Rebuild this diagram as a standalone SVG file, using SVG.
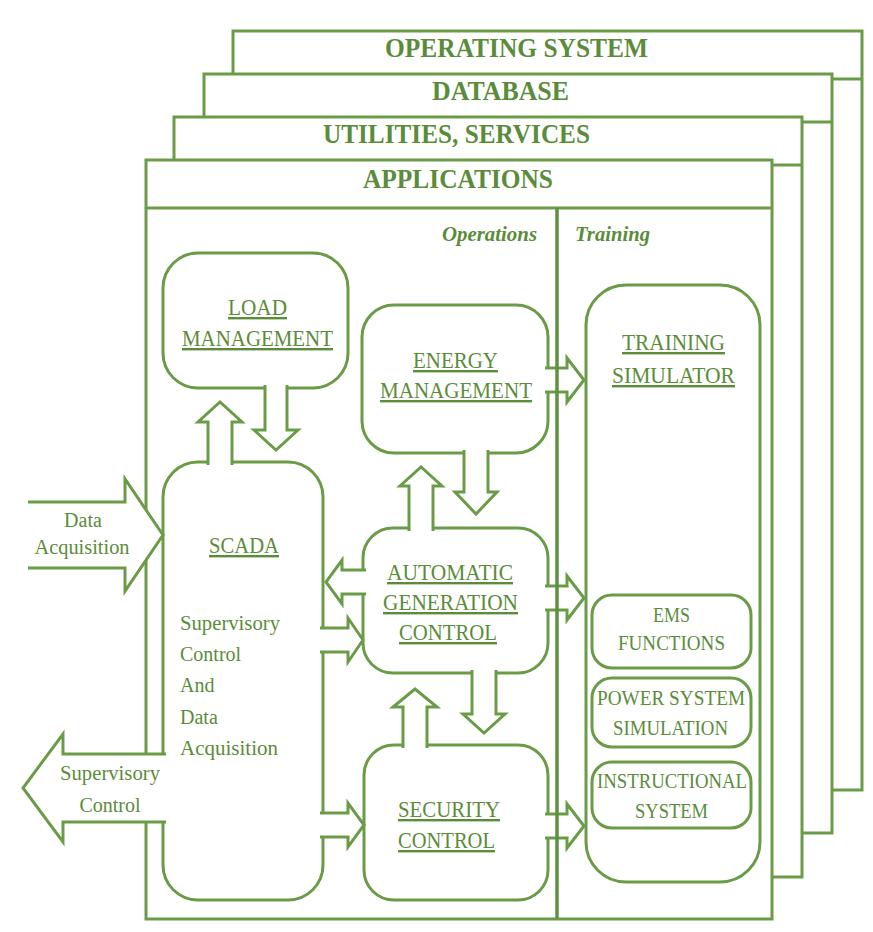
<svg xmlns="http://www.w3.org/2000/svg" width="873" height="932" viewBox="0 0 873 932">
<style>
.frame{fill:#fff;stroke:#6a9b47;stroke-width:3}
.hl{stroke:#6a9b47;stroke-width:3;fill:none}
.box{fill:#fff;stroke:#6a9b47;stroke-width:3}
.arr{fill:#fff;stroke:#6a9b47;stroke-width:3;stroke-linejoin:miter}
.div{stroke:#5e9040;stroke-width:3.5}
text{font-family:"Liberation Serif","Times New Roman",serif;fill:#5b8c3a}
.h{font-size:27px;font-weight:bold}
.it{font-size:21px;font-weight:bold;font-style:italic}
.lbl{font-size:24px;text-decoration:underline}
.sm{font-size:22px}
.t{font-size:20px}
.c{text-anchor:middle}
</style>
<rect width="873" height="932" fill="#fff"/>
<g id="layers">
<g id="operating-system">
<rect class="frame" x="233" y="31" width="629" height="759"/>
<line class="hl" x1="233" y1="79" x2="862" y2="79"/>
<text class="h" x="385" y="57" textLength="263" lengthAdjust="spacingAndGlyphs">OPERATING SYSTEM</text>
</g>
<g id="database">
<rect class="frame" x="204" y="74" width="628" height="759"/>
<line class="hl" x1="204" y1="122" x2="832" y2="122"/>
<text class="h" x="432" y="100" textLength="137" lengthAdjust="spacingAndGlyphs">DATABASE</text>
</g>
<g id="utilities">
<rect class="frame" x="174" y="117" width="628" height="760"/>
<line class="hl" x1="174" y1="165" x2="802" y2="165"/>
<text class="h" x="323" y="143" textLength="267" lengthAdjust="spacingAndGlyphs">UTILITIES, SERVICES</text>
</g>
<g id="applications">
<rect class="frame" x="146" y="160" width="626" height="759"/>
<line class="hl" x1="146" y1="208" x2="772" y2="208"/>
<text class="h" x="363" y="188" textLength="190" lengthAdjust="spacingAndGlyphs">APPLICATIONS</text>
<text class="it" x="442" y="241" textLength="95" lengthAdjust="spacingAndGlyphs">Operations</text>
<text class="it" x="575" y="241" textLength="75" lengthAdjust="spacingAndGlyphs">Training</text>
</g>
</g>
<g id="load-management">
<rect class="box" x="163" y="253" width="185" height="135" rx="35"/>
<text class="lbl" x="228" y="315" textLength="59" lengthAdjust="spacingAndGlyphs">LOAD</text>
<text class="lbl" x="182" y="346" textLength="151" lengthAdjust="spacingAndGlyphs">MANAGEMENT</text>
</g>
<g id="scada">
<rect class="box" x="163" y="462" width="160" height="438" rx="35"/>
<text class="lbl" x="209" y="553" textLength="70" lengthAdjust="spacingAndGlyphs">SCADA</text>
<text class="t" x="180" y="630" textLength="100" lengthAdjust="spacingAndGlyphs">Supervisory</text>
<text class="t" x="180" y="661">Control</text>
<text class="t" x="180" y="692">And</text>
<text class="t" x="180" y="724">Data</text>
<text class="t" x="180" y="755" textLength="98" lengthAdjust="spacingAndGlyphs">Acquisition</text>
</g>
<g id="energy-management">
<rect class="box" x="362" y="305" width="186" height="148" rx="32"/>
<text class="lbl" x="413" y="368" textLength="85" lengthAdjust="spacingAndGlyphs">ENERGY</text>
<text class="lbl" x="380" y="398" textLength="152" lengthAdjust="spacingAndGlyphs">MANAGEMENT</text>
</g>
<g id="agc">
<rect class="box" x="363" y="528" width="185" height="145" rx="30"/>
<text class="lbl" x="387" y="580" textLength="126" lengthAdjust="spacingAndGlyphs">AUTOMATIC</text>
<text class="lbl" x="383" y="610" textLength="135" lengthAdjust="spacingAndGlyphs">GENERATION</text>
<text class="lbl" x="399" y="640" textLength="98" lengthAdjust="spacingAndGlyphs">CONTROL</text>
</g>
<g id="security-control">
<rect class="box" x="364" y="745" width="184" height="155" rx="30"/>
<text class="lbl" x="398" y="817" textLength="102" lengthAdjust="spacingAndGlyphs">SECURITY</text>
<text class="lbl" x="398" y="848" textLength="97" lengthAdjust="spacingAndGlyphs">CONTROL</text>
</g>
<g id="training-simulator">
<rect class="box" x="586" y="285" width="174" height="597" rx="40"/>
<text class="lbl" x="622" y="350" textLength="103" lengthAdjust="spacingAndGlyphs">TRAINING</text>
<text class="lbl" x="612" y="383" textLength="123" lengthAdjust="spacingAndGlyphs">SIMULATOR</text>
</g>
<g id="ems-functions">
<rect class="box" x="592" y="595" width="159" height="73" rx="20"/>
<text class="sm" x="653" y="622" textLength="37" lengthAdjust="spacingAndGlyphs">EMS</text>
<text class="sm" x="618" y="650" textLength="107" lengthAdjust="spacingAndGlyphs">FUNCTIONS</text>
</g>
<g id="power-system-simulation">
<rect class="box" x="592" y="678" width="159" height="69" rx="20"/>
<text class="sm" x="597" y="705" textLength="148" lengthAdjust="spacingAndGlyphs">POWER SYSTEM</text>
<text class="sm" x="613" y="735" textLength="115" lengthAdjust="spacingAndGlyphs">SIMULATION</text>
</g>
<g id="instructional-system">
<rect class="box" x="592" y="762" width="159" height="66" rx="20"/>
<text class="sm" x="597" y="788" textLength="150" lengthAdjust="spacingAndGlyphs">INSTRUCTIONAL</text>
<text class="sm" x="635" y="818" textLength="73" lengthAdjust="spacingAndGlyphs">SYSTEM</text>
</g>
<g id="connectors">
<path class="arr" d="M28,502 H125 V479 L163,535 L125,591 V568 H28"/>
<path class="arr" d="M166,754 H63 V734 L23,788 L63,842 V822 H166"/>
<path class="arr" d="M265,385 V430 H254 L276,450 L298,430 H287 V385"/>
<path class="arr" d="M208,465 V422 H198 L220,402 L242,422 H232 V465"/>
<path class="arr" d="M366,570 H342 V560 L326,582 L342,604 V594 H366"/>
<path class="arr" d="M320,628 H348 V618 L363,640 L348,662 V652 H320"/>
<path class="arr" d="M320,813 H348 V803 L364,825 L348,847 V837 H320"/>
<path class="arr" d="M464,450 V492 H455 L476,514 L497,492 H488 V450"/>
<path class="arr" d="M409,531 V486 H400 L421,467 L442,486 H433 V531"/>
<path class="arr" d="M472,670 V714 H463 L484,733 L505,714 H496 V670"/>
<path class="arr" d="M403,748 V707 H393 L415,689 L437,707 H427 V748"/>
<path class="arr" d="M545,368 H567 V358 L584,380 L567,402 V392 H545"/>
<path class="arr" d="M545,586 H567 V576 L584,598 L567,620 V610 H545"/>
<path class="arr" d="M545,814 H567 V804 L584,826 L567,848 V838 H545"/>
<line class="div" x1="557" y1="208" x2="557" y2="919"/>
<text class="t c" x="83" y="527">Data</text>
<text class="t c" x="82" y="554" textLength="95" lengthAdjust="spacingAndGlyphs">Acquisition</text>
<text class="t c" x="110" y="780" textLength="100" lengthAdjust="spacingAndGlyphs">Supervisory</text>
<text class="t c" x="110" y="812">Control</text>
</g>
</svg>
